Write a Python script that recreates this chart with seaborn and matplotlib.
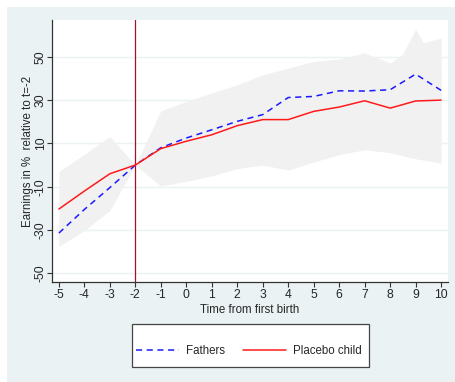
import numpy as np
import pandas as pd
import matplotlib
matplotlib.use("Agg")
import matplotlib.pyplot as plt
from matplotlib.patches import Rectangle
from matplotlib.lines import Line2D
import seaborn as sns

# ---- data ----
time = [-5, -4, -3, -2, -1, 0, 1, 2, 3, 4, 5, 6, 7, 8, 9, 10]
fathers = [-31.4, -20.5, -10.4, 0, 8.0, 12.5, 16.3, 20.2, 23.3, 31.2, 31.7, 34.3, 34.2, 34.8, 42.0, 34.5]
placebo = [-20.3, -12.0, -4.0, 0, 7.6, 11.0, 14.0, 18.2, 21.0, 21.0, 24.8, 26.8, 29.7, 26.3, 29.6, 30.0]
placebo_lo = [-37.6, -30.2, -21.0, 0, -9.7, -7.5, -5.0, -1.6, 0.0, -2.3, 1.4, 4.8, 7.1, 5.7, 2.9, 0.9]
placebo_hi = [-3.0, 5.0, 13.2, 0, 25.0, 29.4, 33.3, 37.1, 41.7, 44.8, 47.9, 49.0, 51.8, 47.1, 55.4, 58.7]
fathers_lo = [-35.0, -25.0, -15.0, 0, 3.0, 7.0, 11.0, 15.0, 18.0, 25.0, 26.0, 28.0, 28.0, 29.0, 22.0, 28.0]
fathers_hi = [-27.0, -15.0, -5.0, 0, 13.0, 18.0, 22.0, 25.0, 29.0, 37.0, 38.0, 40.0, 40.0, 40.0, 62.8, 41.5]
series_names = ["Fathers", "Placebo child"]
yticks = [-50, -30, -10, 10, 30, 50]
xticks = list(range(-5, 11))

df = pd.DataFrame({
    "t": time * 2,
    "y": fathers + placebo,
    "group": [series_names[0]] * len(time) + [series_names[1]] * len(time),
})

sns.set_style("white")
plt.rcParams["font.family"] = ["Liberation Sans", "DejaVu Sans"]
FS = 8.3

W, H = 456, 382
fig = plt.figure(figsize=(W / 100, H / 100), dpi=100)
fig.patch.set_facecolor("white")
bg = "#eaf2f3"
fig.patches.append(Rectangle((7 / W, 0), 1 - 7 / W, 1 - 7 / H, transform=fig.transFigure,
                             facecolor=bg, edgecolor="none", zorder=-10))
# legend frame (Stata-style box)
fig.patches.append(Rectangle((132 / W, 1 - 367 / H), (369 - 132) / W, (367 - 324) / H,
                             transform=fig.transFigure, facecolor="white",
                             edgecolor="#444444", lw=0.9, zorder=-5))

ax = fig.add_axes([52 / W, 1 - 282 / H, (448 - 52) / W, (282 - 20) / H])
ax.set_facecolor("white")

band = "#f1f1f1"
ax.fill_between(time, placebo_lo, placebo_hi, color=band, lw=0, zorder=1)
ax.fill_between(time, fathers_lo, fathers_hi, color=band, lw=0, zorder=1)

for yv in yticks:
    ax.axhline(yv, color=bg, lw=1.0, zorder=0.5)

ax.axvline(-2, color="#a3122c", lw=0.9, zorder=3)

sns.lineplot(data=df, x="t", y="y", hue="group", style="group",
             palette={series_names[0]: "#1a1aff", series_names[1]: "#ff1a1a"},
             dashes={series_names[0]: (4, 3), series_names[1]: ""},
             lw=1.1, ax=ax, zorder=4, legend=False)

ax.set_xlim(-5.27, 10.27)
ax.set_ylim(-54, 67)
ax.set_xticks(xticks)
ax.set_xticklabels([str(v) for v in xticks], fontsize=FS + 0.4)
ax.set_yticks(yticks)
ax.set_yticklabels([str(v) for v in yticks], fontsize=FS + 0.4, rotation=90, va="center")
ax.tick_params(axis="both", direction="out", length=3.8, width=0.8, color="#333333",
               pad=1.5, bottom=True, left=True)
ax.tick_params(axis="y", pad=0.0)
for s in ["top", "right"]:
    ax.spines[s].set_visible(False)
for s in ["left", "bottom"]:
    ax.spines[s].set_color("#333333")
    ax.spines[s].set_linewidth(0.9)

ax.set_xlabel("Time from first birth", fontsize=FS, labelpad=2)
ax.set_ylabel("Earnings in %  relative to t=-2", fontsize=FS, labelpad=0.8)

handles = [Line2D([], [], color="#1a1aff", lw=1.1, dashes=(4, 3)),
           Line2D([], [], color="#ff1a1a", lw=1.1)]
leg = fig.legend(handles, series_names, loc="center", ncol=2,
                 bbox_to_anchor=(249 / W, 1 - 351 / H), frameon=False,
                 fontsize=FS, handlelength=3.7, columnspacing=1.6,
                 handletextpad=0.6, borderpad=0, borderaxespad=0)

fig.savefig("out.png", dpi=100, facecolor=fig.get_facecolor())
